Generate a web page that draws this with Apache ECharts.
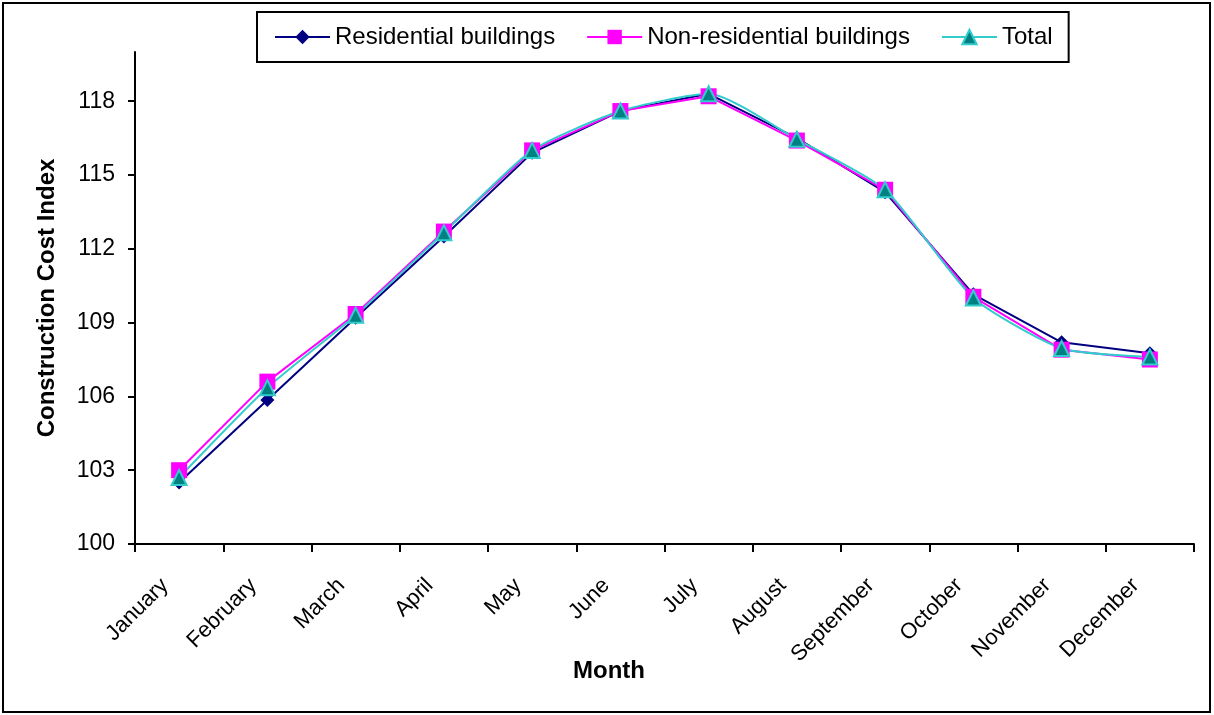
<!DOCTYPE html>
<html>
<head>
<meta charset="utf-8">
<script src="https://cdn.jsdelivr.net/npm/echarts@6/dist/echarts.min.js"></script>
<style>
html,body{margin:0;padding:0;background:#fff;}
#chart{width:1214px;height:715px;}
</style>
</head>
<body>
<div id="chart"></div>
<script>
var months = ['January','February','March','April','May','June','July','August','September','October','November','December'];
var residential = [102.5, 105.85, 109.2, 112.5, 115.9, 117.6, 118.3, 116.5, 114.3, 110.15, 108.2, 107.75];
var nonResidential = [103.0, 106.6, 109.35, 112.7, 116.0, 117.6, 118.2, 116.4, 114.4, 110.05, 107.9, 107.5];
var total = [102.7, 106.35, 109.3, 112.65, 116.0, 117.6, 118.3, 116.45, 114.4, 110.0, 107.95, 107.6];
var yTicks = [100, 103, 106, 109, 112, 115, 118];

var FONT = 'Liberation Sans, Arial, sans-serif';
var chart = echarts.init(document.getElementById('chart'), null, {renderer: 'canvas'});
chart.setOption({
  backgroundColor: '#fff',
  animation: false,
  graphic: [{
    type: 'rect',
    shape: {x: 3, y: 3, width: 1207, height: 709},
    style: {fill: null, stroke: '#000', lineWidth: 2},
    silent: true
  }],
  legend: {
    left: 257, top: 12,
    padding: [13, 16, 13, 17],
    borderColor: '#000', borderWidth: 2,
    itemWidth: 55, itemHeight: 18, itemGap: 31,
    textStyle: {fontFamily: FONT, fontSize: 24, color: '#000'},
    data: ['Residential buildings', 'Non-residential buildings', 'Total']
  },
  grid: {left: 135, right: 20, top: 52, bottom: 171, containLabel: false},
  xAxis: {
    type: 'category',
    data: months,
    boundaryGap: true,
    name: 'Month',
    nameLocation: 'middle',
    nameGap: 115,
    nameMoveOverlap: false,
    nameTextStyle: {fontFamily: FONT, fontSize: 24, fontWeight: 'bold', color: '#000', padding: [0, 111, 0, 0]},
    axisLine: {lineStyle: {color: '#000', width: 2}},
    axisTick: {show: true, length: 8, lineStyle: {color: '#000', width: 2}},
    axisLabel: {rotate: 45, margin: 24, padding: [0, 20, 0, 0], interval: 0, fontFamily: FONT, fontSize: 22, color: '#000'}
  },
  yAxis: {
    type: 'value',
    min: 100, max: 120, interval: 1,
    name: 'Construction Cost Index',
    nameLocation: 'middle',
    nameGap: 76,
    nameMoveOverlap: false,
    nameTextStyle: {fontFamily: FONT, fontSize: 24, fontWeight: 'bold', color: '#000'},
    splitLine: {show: false},
    axisLine: {show: true, lineStyle: {color: '#000', width: 2}},
    axisTick: {show: true, length: 7, customValues: yTicks, lineStyle: {color: '#000', width: 2}},
    axisLabel: {customValues: yTicks, margin: 20, fontFamily: FONT, fontSize: 23, color: '#000'}
  },
  series: [
    {
      name: 'Residential buildings', type: 'line', data: residential,
      symbol: 'diamond', symbolSize: 14,
      lineStyle: {color: '#000080', width: 2},
      itemStyle: {color: '#000080'}
    },
    {
      name: 'Non-residential buildings', type: 'line', data: nonResidential,
      symbol: 'rect', symbolSize: 16,
      lineStyle: {color: '#FF00FF', width: 2},
      itemStyle: {color: '#FF00FF'}
    },
    {
      name: 'Total', type: 'line', data: total,
      smooth: 0.2,
      symbol: 'triangle', symbolSize: 15,
      lineStyle: {color: '#33CCCC', width: 2},
      itemStyle: {color: '#008080', borderColor: '#33CCCC', borderWidth: 2}
    }
  ]
});
</script>
</body>
</html>
